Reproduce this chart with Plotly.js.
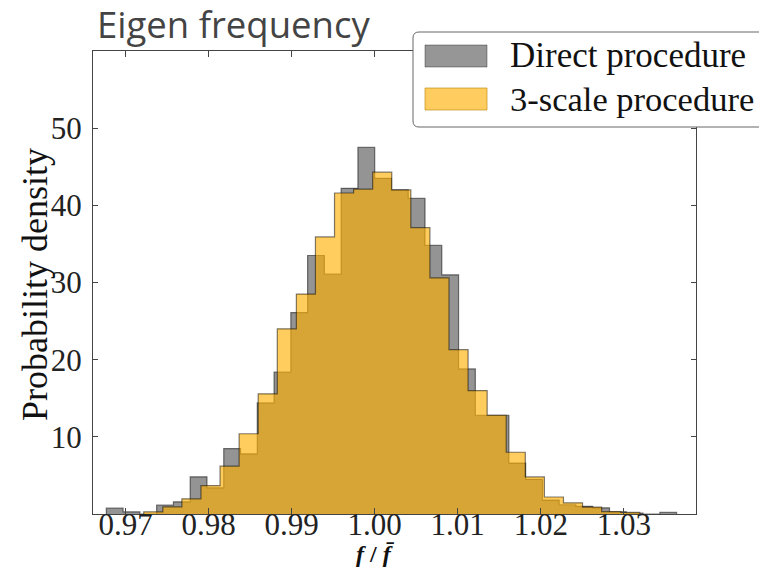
<!DOCTYPE html>
<html>
<head>
<meta charset="utf-8">
<script src="https://cdn.plot.ly/plotly-3.0.1.min.js"></script>
<style>html,body{margin:0;padding:0;background:#fff;}#chart{width:759px;height:569px;}</style>
</head>
<body>
<div id="chart"></div>
<script>
// Histogram bins
const directBinStart = 0.967675;
const directBinWidth = 0.0020203;
const directDensity = [0.75, 0.28, 0, 1.14, 1.58, 4.82, 3.39, 8.48, 7.8, 14.4,
  18.4, 26.1, 33.5, 31.1, 42.2, 47.5, 43.5, 42.0, 40.9, 34.8,
  31.0, 18.8, 12.8, 12.8, 6.6, 4.5, 1.8, 1.2, 1.0, 0.8,
  0.28, 0.12, 0, 0.2];

const threeScaleBinStart = 0.97218;
const threeScaleBinWidth = 0.002298;
const threeScaleDensity = [0.28, 0.93, 1.97, 3.69, 6.2, 10.4, 15.57, 24.0, 28.5, 35.9,
  41.6, 42.1, 44.3, 42.0, 37.1, 30.6, 21.3, 16.0, 12.8, 8.0,
  4.8, 2.2, 1.45, 0.9, 0.32, 0.2];

const seriesNames = ["Direct procedure", "3-scale procedure"];
const xTickVals = [0.97, 0.98, 0.99, 1.00, 1.01, 1.02, 1.03];
const yTickVals = [10, 20, 30, 40, 50];

function steps(start, width, h) {
  const xs = [start], ys = [0];
  for (let i = 0; i < h.length; i++) { xs.push(start + i * width); ys.push(h[i]); }
  xs.push(start + h.length * width); ys.push(0);
  return {x: xs, y: ys};
}

const grayFill = 'rgba(0,0,0,0.42)';
const yellowFill = 'rgba(255,175,0,0.63)';
const edge = 'rgba(0,0,0,0.5)';

const d1 = steps(directBinStart, directBinWidth, directDensity);
const d2 = steps(threeScaleBinStart, threeScaleBinWidth, threeScaleDensity);

const traces = [
  {x: d1.x, y: d1.y, type: 'scatter', mode: 'lines', line: {shape: 'hv', color: edge, width: 1.2},
   fill: 'tozeroy', fillcolor: grayFill, name: seriesNames[0], showlegend: false, hoverinfo: 'skip'},
  {x: d2.x, y: d2.y, type: 'scatter', mode: 'lines', line: {shape: 'hv', color: edge, width: 1.2},
   fill: 'tozeroy', fillcolor: yellowFill, name: seriesNames[1], showlegend: false, hoverinfo: 'skip'}
];

const serif = 'Liberation Serif, Times New Roman, serif';
const L = 93, R = 63, T = 51, B = 55;
const W = 759, H = 569;
const pw = W - L - R, ph = H - T - B;
const px = v => (v - L) / pw;
const py = v => (H - B - v) / ph;

const bx0 = px(413), bx1 = px(800), by0 = py(127), by1 = py(32);
const rx = 6 / pw, ry = 6 / ph;
const boxPath = `M ${bx0 + rx},${by1} L ${bx1},${by1} L ${bx1},${by0} L ${bx0 + rx},${by0} ` +
  `Q ${bx0},${by0} ${bx0},${by0 + ry} L ${bx0},${by1 - ry} Q ${bx0},${by1} ${bx0 + rx},${by1} Z`;

const layout = {
  width: W, height: H,
  margin: {l: L, r: R, t: T, b: B, pad: 0},
  paper_bgcolor: '#fff', plot_bgcolor: '#fff',
  showlegend: false,
  title: {text: 'Eigen frequency', font: {family: 'Open Sans, sans-serif', size: 36.5, color: '#444'},
    x: 97 / W, xanchor: 'left', xref: 'container', y: 1 - 25 / H, yanchor: 'middle', yref: 'container'},
  xaxis: {range: [0.96607, 1.0387], tickvals: xTickVals, tickformat: '.2f',
    ticks: 'inside', ticklen: 6, tickcolor: '#444', showline: true, linecolor: '#444', linewidth: 1,
    mirror: 'ticks', showgrid: false, zeroline: false,
    tickfont: {family: serif, size: 31, color: '#222'}, ticklabelstandoff: -17},
  yaxis: {range: [0, 60], tickvals: yTickVals,
    ticks: 'inside', ticklen: 5, tickcolor: '#444', showline: true, linecolor: '#444', linewidth: 1,
    mirror: 'ticks', showgrid: false, zeroline: false,
    tickfont: {family: serif, size: 31, color: '#222'}, ticklabelstandoff: 4},
  shapes: [
    {type: 'path', xref: 'paper', yref: 'paper', path: boxPath, fillcolor: '#fff',
     line: {color: '#666', width: 1}, layer: 'above'},
    {type: 'rect', xref: 'paper', yref: 'paper', x0: px(425), x1: px(487), y0: py(67), y1: py(45),
     fillcolor: 'rgb(150,150,150)', line: {color: 'rgba(0,0,0,0.35)', width: 1}, layer: 'above'},
    {type: 'rect', xref: 'paper', yref: 'paper', x0: px(425), x1: px(487), y0: py(110), y1: py(88),
     fillcolor: 'rgb(255,205,95)', line: {color: 'rgba(180,130,0,0.6)', width: 1}, layer: 'above'}
  ],
  annotations: [
    {text: 'Probability density', xref: 'paper', yref: 'paper', x: px(35), y: py(285), xanchor: 'center', yanchor: 'middle',
     textangle: -90, showarrow: false, font: {family: serif, size: 36, color: '#111'}},
    {text: seriesNames[0], xref: 'paper', yref: 'paper', x: px(508), y: py(56), xanchor: 'left', yanchor: 'middle',
     showarrow: false, font: {family: serif, size: 35, color: '#111'}},
    {text: seriesNames[1], xref: 'paper', yref: 'paper', x: px(508), y: py(99), xanchor: 'left', yanchor: 'middle',
     showarrow: false, font: {family: serif, size: 34.5, color: '#111'}},
    {text: '<b><i>f</i> / <i>f\u0304</i></b>', xref: 'x', yref: 'paper', x: 1.0, y: py(554), xanchor: 'center', yanchor: 'middle',
     showarrow: false, font: {family: serif, size: 24, color: '#111'}}
  ]
};

Plotly.newPlot('chart', traces, layout, {staticPlot: true, displayModeBar: false});
</script>
</body>
</html>
